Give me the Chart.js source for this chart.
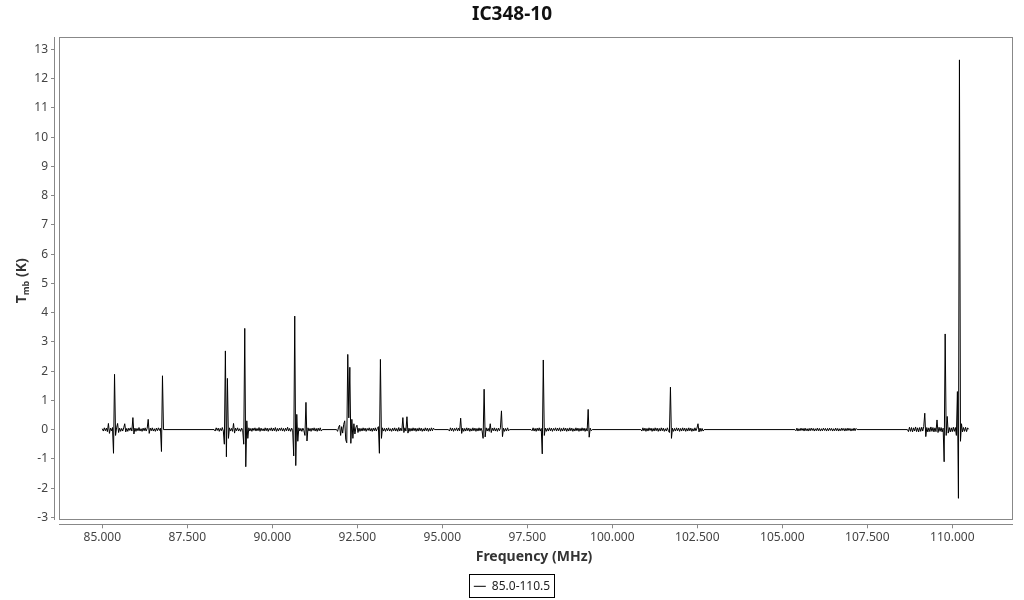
<!DOCTYPE html>
<html><head><meta charset="utf-8">
<script src="https://cdn.jsdelivr.net/npm/chart.js@4.4.1/dist/chart.umd.min.js"></script>
<style>html,body{margin:0;padding:0;background:#fff;}</style>
</head><body>
<canvas id="c" width="1024" height="600"></canvas>
<script>
// ---- data ----
const chartTitle = 'IC348-10';
const seriesLabel = '85.0-110.5';
const channelStep = 0.03; // GHz per channel
const segStarts = [85.00, 88.29, 91.89, 95.18, 97.61, 100.84, 105.37, 108.68];

const seg1 = [0.03,-0.05,0.06,-0.04,0.05,-0.07,0.21,-0.13,0.05,-0.04,0.07,-0.81,1.89,-0.2,0.06,0.21,-0.1,0.05,-0.06,0.04,
  -0.05,0.06,0.2,-0.08,0.04,-0.06,0.05,-0.03,0.06,-0.05,0.41,-0.15,0.05,-0.06,0.04,-0.04,0.07,-0.05,0.03,-0.06,
  0.05,-0.04,0.06,-0.05,0.04,0.35,-0.13,0.05,-0.04,0.06,-0.05,0.03,-0.06,0.05,-0.04,0.06,-0.03,0.05,-0.75,1.84,0.0];
const seg2 = [0.0,-0.05,0.06,-0.03,0.05,-0.06,0.04,-0.04,0.07,-0.05,-0.5,2.69,-0.93,1.75,-0.3,0.06,-0.05,0.04,-0.06,0.21,
  -0.12,0.05,-0.04,0.06,-0.05,0.03,-0.06,0.05,-0.04,-0.5,3.46,-1.27,0.3,-0.3,0.06,-0.05,0.04,-0.06,0.05,-0.03,
  0.06,-0.05,0.04,-0.04,0.07,-0.06,0.05,-0.04,0.03,-0.05,0.06,-0.04,0.05,-0.06,0.04,-0.03,0.06,-0.05,0.05,-0.04,
  0.07,-0.06,0.04,-0.05,0.05,-0.03,0.06,-0.05,0.04,-0.06,0.05,-0.04,0.08,-0.05,0.04,-0.06,0.05,-0.04,-0.9,3.88,
  -1.23,0.52,-0.4,0.06,-0.05,0.04,-0.06,0.05,-0.04,-0.2,0.93,-0.39,0.06,-0.05,0.04,-0.06,0.05,-0.03,0.06,-0.05,
  0.04,-0.06,0.05,-0.04,0.06,-0.05,0.0];
const seg3 = [0.0,-0.06,0.08,0.15,-0.2,0.1,-0.12,0.18,0.3,-0.35,-0.45,2.57,0.4,2.13,-0.47,0.35,-0.3,0.2,-0.15,0.08,
  0.15,-0.1,0.05,-0.06,0.04,-0.05,0.06,-0.04,0.05,-0.06,0.04,-0.03,0.06,-0.05,0.04,-0.06,0.05,-0.04,0.06,-0.05,
  0.04,0.1,-0.81,2.4,-0.3,0.06,-0.05,0.04,-0.06,0.05,-0.04,0.06,-0.05,0.03,-0.06,0.05,-0.04,0.06,-0.05,0.04,
  -0.06,0.07,-0.05,0.05,-0.04,0.41,-0.1,0.06,-0.05,0.44,-0.12,0.05,-0.06,0.04,-0.05,0.06,-0.04,0.05,-0.06,0.04,
  -0.05,0.06,-0.04,0.05,-0.06,0.03,-0.05,0.06,-0.04,0.05,-0.06,0.04,-0.05,0.06,-0.04,0.05,0.0];
const seg4 = [0.0,-0.05,0.06,-0.04,0.05,-0.06,0.04,-0.03,0.06,-0.05,0.05,-0.04,0.39,-0.13,0.05,-0.06,0.04,-0.05,0.06,-0.04,
  0.05,-0.06,0.03,-0.05,0.06,-0.04,0.05,-0.06,0.04,-0.05,0.06,-0.04,0.05,-0.05,-0.3,1.38,-0.25,0.06,-0.05,0.04,
  -0.06,0.2,-0.1,0.05,-0.04,0.06,-0.05,0.04,-0.06,0.05,-0.04,0.06,0.64,-0.24,0.05,-0.06,0.04,-0.05,0.06,-0.04,0.0];
const seg5 = [0.0,-0.04,0.06,-0.05,0.04,-0.06,0.05,-0.04,0.06,-0.05,0.04,-0.83,2.38,-0.2,0.05,-0.06,0.04,-0.05,0.06,-0.04,
  0.05,-0.06,0.04,-0.03,0.06,-0.05,0.05,-0.04,0.06,-0.06,0.04,-0.05,0.06,-0.04,0.05,-0.06,0.04,-0.05,0.06,-0.04,
  0.05,-0.06,0.03,-0.05,0.06,-0.04,0.05,-0.06,0.04,-0.05,0.06,-0.04,0.05,-0.06,0.04,-0.05,0.69,-0.26,0.05,-0.04,0.0];
const seg6 = [0.0,-0.05,0.06,-0.04,0.05,-0.06,0.04,-0.05,0.06,-0.03,0.05,-0.06,0.04,-0.05,0.06,-0.04,0.05,-0.06,0.04,-0.05,
  0.06,-0.04,0.05,-0.06,0.03,-0.05,0.06,-0.04,-0.1,1.45,-0.3,0.05,-0.06,0.04,-0.05,0.06,-0.04,0.05,-0.06,0.04,
  -0.05,0.06,-0.04,0.05,-0.06,0.04,-0.05,0.06,-0.04,0.05,-0.06,0.03,-0.05,0.06,-0.04,0.05,0.2,-0.08,0.05,-0.06,
  0.04,-0.05,0.0];
const seg7 = [0.0,-0.04,0.05,-0.05,0.03,-0.04,0.05,-0.03,0.04,-0.05,0.05,-0.04,0.03,-0.05,0.04,-0.04,0.05,-0.03,0.04,-0.05,
  0.03,-0.04,0.05,-0.04,0.04,-0.05,0.03,-0.04,0.05,-0.03,0.04,-0.05,0.04,-0.04,0.05,-0.03,0.04,-0.05,0.03,-0.04,
  0.05,-0.04,0.04,-0.05,0.03,-0.04,0.05,-0.03,0.04,-0.05,0.04,-0.04,0.05,-0.03,0.04,-0.05,0.03,-0.04,0.05,-0.04,
  0.04,0.0];
const seg8 = [0.0,-0.07,0.08,-0.06,0.07,-0.08,0.06,-0.05,0.09,-0.07,0.06,-0.08,0.07,-0.06,0.08,-0.05,0.1,0.56,-0.24,0.07,
  -0.08,0.06,-0.07,0.09,-0.06,0.07,-0.08,0.06,-0.07,0.33,-0.1,0.08,-0.06,0.07,-0.08,0.05,-1.1,3.27,-0.2,0.45,
  -0.12,0.07,-0.08,0.06,-0.07,0.08,-0.06,0.07,-0.2,1.3,-2.35,12.64,-0.4,0.2,-0.08,0.07,-0.06,0.08,-0.07,0.06,0.01];
const segValues = [seg1, seg2, seg3, seg4, seg5, seg6, seg7, seg8];

const xTickValues = [85, 87.5, 90, 92.5, 95, 97.5, 100, 102.5, 105, 107.5, 110];
const yTickValues = [-3, -2, -1, 0, 1, 2, 3, 4, 5, 6, 7, 8, 9, 10, 11, 12, 13];

// ---- build points ----
const points = [];
segValues.forEach((vals, s) => {
  vals.forEach((v, i) => points.push({x: +(segStarts[s] + i * channelStep).toFixed(4), y: v}));
});

Chart.defaults.font.family = '"Noto Sans", "Open Sans", sans-serif';
Chart.defaults.color = '#444';

const decorPlugin = {
  id: 'decor',
  beforeDatasetsDraw(chart) {
    const {ctx, chartArea: a} = chart;
    ctx.save();
    ctx.strokeStyle = '#888';
    ctx.lineWidth = 1;
    const L = Math.round(a.left) + 4, T = Math.round(a.top), R = Math.round(a.right), B = Math.round(a.bottom) - 4;
    ctx.strokeRect(L + 0.5, T + 0.5, R - L - 1, B - T - 1);
    ctx.beginPath();
    ctx.moveTo(Math.round(a.left) - 0.5, T);
    ctx.lineTo(Math.round(a.left) - 0.5, B);
    ctx.moveTo(L, Math.round(a.bottom) + 0.5);
    ctx.lineTo(R, Math.round(a.bottom) + 0.5);
    ctx.stroke();
    ctx.restore();
  },
  afterDraw(chart) {
    const {ctx, chartArea: a} = chart;
    ctx.save();
    // y axis title with subscript
    const big = 'bold 14px "Noto Sans", sans-serif';
    const small = 'bold 9px "Noto Sans", sans-serif';
    ctx.font = big; const wT = ctx.measureText('T').width; const wK = ctx.measureText(' (K)').width;
    ctx.font = small; const wS = ctx.measureText('mb').width;
    const total = wT + wS + wK;
    ctx.translate(22, (a.top + a.bottom) / 2);
    ctx.rotate(-Math.PI / 2);
    ctx.fillStyle = '#333';
    ctx.textBaseline = 'middle';
    ctx.textAlign = 'left';
    let x = -total / 2;
    ctx.font = big; ctx.fillText('T', x, 0); x += wT;
    ctx.font = small; ctx.fillText('mb', x, 4); x += wS;
    ctx.font = big; ctx.fillText(' (K)', x, 0);
    ctx.restore();
    // legend frame
    const hb = chart.legend && chart.legend.legendHitBoxes && chart.legend.legendHitBoxes[0];
    if (hb) {
      ctx.save();
      ctx.strokeStyle = '#000';
      ctx.lineWidth = 1;
      ctx.strokeRect(Math.round(hb.left - 5) + 0.5, Math.round(hb.top - 6) + 0.5, Math.round(hb.width + 9), Math.round(hb.height + 11));
      ctx.restore();
    }
  }
};

new Chart(document.getElementById('c'), {
  type: 'line',
  data: {
    datasets: [{
      label: seriesLabel,
      data: points,
      borderColor: '#000',
      backgroundColor: '#000',
      borderWidth: 1,
      pointRadius: 0,
      tension: 0,
      fill: false
    }]
  },
  options: {
    responsive: false,
    animation: false,
    events: [],
    layout: {padding: {left: 0, right: 0, top: 0, bottom: -2.3}},
    plugins: {
      title: {
        display: true,
        text: chartTitle,
        color: '#111',
        font: {size: 19, weight: 'bold'},
        padding: {top: 3.5, bottom: 11}
      },
      legend: {
        display: true,
        position: 'bottom',
        labels: {
          usePointStyle: true,
          pointStyle: 'line',
          pointStyleWidth: 12,
          color: '#222',
          font: {size: 12},
          padding: 4
        }
      },
      tooltip: {enabled: false}
    },
    scales: {
      x: {
        type: 'linear',
        min: 83.609,
        max: 111.785,
        afterBuildTicks: s => { s.ticks = xTickValues.map(v => ({value: v})); },
        afterFit: s => { s.height = 52; },
        ticks: {
          autoSkip: false, maxRotation: 0, minRotation: 0, padding: 2,
          color: '#444', font: {size: 12},
          callback: v => Number(v).toFixed(3)
        },
        grid: {display: true, drawOnChartArea: false, drawTicks: true, tickLength: 4, color: '#888'},
        border: {display: false},
        title: {
          display: true, text: 'Frequency (MHz)', color: '#333',
          font: {size: 14, weight: 'bold'}, padding: {top: 0, bottom: 11}
        }
      },
      y: {
        type: 'linear',
        min: -3.238,
        max: 13.412,
        afterBuildTicks: s => { s.ticks = yTickValues.map(v => ({value: v})); },
        afterFit: s => { s.width = 55; },
        ticks: {autoSkip: false, padding: 3, color: '#444', font: {size: 12}},
        grid: {display: true, drawOnChartArea: false, drawTicks: true, tickLength: 4, color: '#888'},
        border: {display: false}
      },
      yRightGap: {
        type: 'linear',
        position: 'right',
        display: true,
        afterFit: s => { s.width = 11; },
        ticks: {display: false},
        grid: {display: false, drawTicks: false},
        border: {display: false}
      }
    }
  },
  plugins: [decorPlugin]
});
</script>
</body></html>
